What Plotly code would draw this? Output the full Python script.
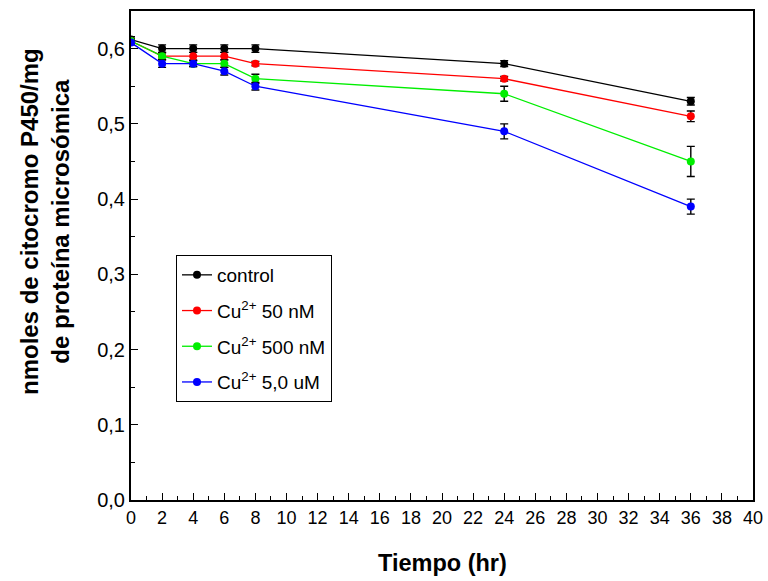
import plotly.graph_objects as go

time_hr = [0, 2, 4, 6, 8, 24, 36]
series_names = ["control", "Cu<sup>2+</sup> 50 nM", "Cu<sup>2+</sup> 500 nM", "Cu<sup>2+</sup> 5,0 uM"]
control = [0.612, 0.600, 0.600, 0.600, 0.600, 0.580, 0.530]
cu_50nM = [0.610, 0.590, 0.590, 0.590, 0.580, 0.560, 0.510]
cu_500nM = [0.610, 0.590, 0.580, 0.580, 0.560, 0.540, 0.450]
cu_5uM = [0.608, 0.580, 0.580, 0.570, 0.550, 0.490, 0.390]
err_control = [0.004, 0.005, 0.005, 0.005, 0.005, 0.004, 0.005]
err_50nM = [0.003, 0.004, 0.005, 0.005, 0.003, 0.003, 0.007]
err_500nM = [0.003, 0.005, 0.004, 0.005, 0.006, 0.010, 0.020]
err_5uM = [0.003, 0.005, 0.004, 0.005, 0.005, 0.010, 0.010]
colors = ["#000000", "#ff0000", "#00ee00", "#0000ff"]
x_title = "<b>Tiempo (hr)</b>"
y_title = "<b>nmoles de citocromo P450/mg<br>de proteína microsómica</b>"

values = [control, cu_50nM, cu_500nM, cu_5uM]
errors = [err_control, err_50nM, err_500nM, err_5uM]

W, H = 768, 581
L, R, T, B = 131, 15, 11, 81
pw, ph = W - L - R, H - T - B

regular = "Liberation Sans, Arial, sans-serif"

fig = go.Figure()
for i, (name, ys, es, c) in enumerate(zip(series_names, values, errors, colors)):
    fig.add_trace(go.Scatter(
        x=time_hr, y=ys, name=name, mode="lines+markers", legendgroup=str(i),
        line=dict(color=c, width=1.3),
        marker=dict(color=c, size=8, symbol="circle"),
        error_y=dict(type="data", array=es, visible=True, color="black", thickness=1.4, width=4),
    ))

fig.update_layout(
    width=W, height=H,
    margin=dict(l=L, r=R, t=T, b=B, autoexpand=False),
    paper_bgcolor="white", plot_bgcolor="white",
    separators=",.",
    font=dict(family=regular, size=18, color="black"),
    showlegend=True,
    legend=dict(
        x=(176 - L) / pw, y=(500 - 255) / ph, xanchor="left", yanchor="top",
        bordercolor="black", borderwidth=1, bgcolor="white",
        font=dict(family=regular, size=19), itemwidth=30, tracegroupgap=8,
    ),
    xaxis=dict(
        range=[0, 40], tickmode="linear", tick0=0, dtick=2, automargin=False,
        ticks="inside", ticklen=7, tickwidth=1.3, tickcolor="black",
        minor=dict(dtick=1, ticks="inside", ticklen=4, tickwidth=1.3, tickcolor="black"),
        showline=True, linecolor="black", linewidth=2, mirror=True,
        showgrid=False, zeroline=False,
        tickfont=dict(family=regular, size=18),
    ),
    yaxis=dict(
        range=[0, 0.65], tickmode="linear", tick0=0, dtick=0.1, tickformat=".1f", automargin=False,
        ticks="inside", ticklen=7, tickwidth=1.3, tickcolor="black",
        minor=dict(dtick=0.05, ticks="inside", ticklen=4, tickwidth=1.3, tickcolor="black"),
        showline=True, linecolor="black", linewidth=2, mirror=True,
        showgrid=False, zeroline=False,
        tickfont=dict(family=regular, size=20),
    ),
    annotations=[
        dict(text=x_title, xref="paper", yref="paper",
             x=(442 - L) / pw, y=(500 - 563) / ph, xanchor="center", yanchor="middle",
             showarrow=False, font=dict(family=regular, size=23.5)),
        dict(text=y_title, xref="paper", yref="paper", textangle=-90,
             x=(45 - L) / pw, y=(500 - 222) / ph, xanchor="center", yanchor="middle",
             showarrow=False, font=dict(family=regular, size=24)),
    ],
)

fig.write_html("out.html", post_script="document.body.style.margin='0';",
               config={"displayModeBar": False})
